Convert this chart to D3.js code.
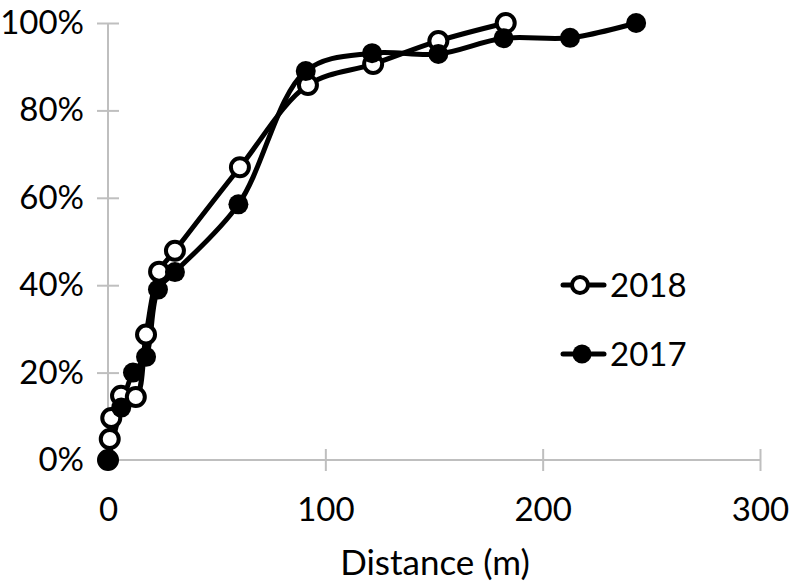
<!DOCTYPE html>
<html><head><meta charset="utf-8">
<script src="https://cdn.jsdelivr.net/npm/d3@7"></script>
<style>body{margin:0;background:#fff}svg{display:block}text{font-family:Lato,"Open Sans",sans-serif;fill:#000}</style>
</head><body>
<svg id="c" width="792" height="585"></svg>
<script>
const xTicks = [0, 100, 200, 300];
const yTicks = [0, 0.2, 0.4, 0.6, 0.8, 1.0];
const series2018X = [0, 0.8, 1.5, 6.0, 12.8, 17.5, 23.5, 30.8, 60.7, 92, 122, 152, 183];
const series2018Y = [0, 0.048, 0.096, 0.147, 0.144, 0.287, 0.431, 0.479, 0.67, 0.858, 0.906, 0.959, 1.0];
const series2017X = [0, 6.1, 11.5, 17.5, 23, 30.8, 60, 91, 121.5, 152, 182, 212.6, 243];
const series2017Y = [0, 0.12, 0.2, 0.236, 0.39, 0.43, 0.585, 0.89, 0.931, 0.929, 0.965, 0.966, 1.0];
const legendLabels = ["2018", "2017"];

const svg = d3.select("#c");
const x = d3.scaleLinear().domain([0, 300]).range([108, 760]);
const y = d3.scaleLinear().domain([0, 1]).range([460, 23]);
const grey = "#bfbfbf";

const xAxis = svg.append("g").attr("transform", `translate(0,${y(0)})`)
  .call(d3.axisBottom(x).tickValues(xTicks).tickSize(11).tickPadding(27).tickFormat(d3.format("d")));
xAxis.selectAll(".tick line").attr("y1", -11);
const yAxis = svg.append("g").attr("transform", `translate(${x(0)},0)`)
  .call(d3.axisLeft(y).tickValues(yTicks).tickSize(11).tickPadding(13).tickFormat(d3.format(".0%")));
yAxis.selectAll(".tick line").attr("x1", 11).attr("x2", -11);
[xAxis, yAxis].forEach(g => {
  g.select(".domain").attr("stroke", grey).attr("stroke-width", 2);
  g.selectAll(".tick line").attr("stroke", grey).attr("stroke-width", 2);
  g.selectAll(".tick text").attr("font-size", 33).attr("font-family", "Lato").attr("fill", "#000");
});
yAxis.select(".domain").attr("d", `M0,${y(1)}V${y(0)}`);
xAxis.select(".domain").attr("d", `M${x(0)},0H${x(300)}`);

svg.append("text").attr("x", 435).attr("y", 575).attr("text-anchor", "middle")
  .attr("font-size", 35).text("Distance (m)");

const line = d3.line().x(d => x(d[0])).y(d => y(d[1])).curve(d3.curveCatmullRom.alpha(0.5));
const d2018 = series2018X.map((v, i) => [v, series2018Y[i]]);
const d2017 = series2017X.map((v, i) => [v, series2017Y[i]]);

svg.append("path").attr("d", line(d2018)).attr("fill", "none").attr("stroke", "#000").attr("stroke-width", 5);
svg.append("path").attr("d", line(d2017)).attr("fill", "none").attr("stroke", "#000").attr("stroke-width", 5);

svg.append("g").selectAll("circle").data(d2018).join("circle")
  .attr("cx", d => x(d[0])).attr("cy", d => y(d[1])).attr("r", 9)
  .attr("fill", "#fff").attr("stroke", "#000").attr("stroke-width", 4);
svg.append("g").selectAll("circle").data(d2017).join("circle")
  .attr("cx", d => x(d[0])).attr("cy", d => y(d[1])).attr("r", 10)
  .attr("fill", "#000");

const leg = svg.append("g");
[[285, true], [354, false]].forEach(([ly, open], i) => {
  leg.append("line").attr("x1", 563).attr("x2", 604).attr("y1", ly).attr("y2", ly)
    .attr("stroke", "#000").attr("stroke-width", 5).attr("stroke-linecap", "round");
  if (open) leg.append("circle").attr("cx", 580).attr("cy", ly).attr("r", 8)
    .attr("fill", "#fff").attr("stroke", "#000").attr("stroke-width", 4);
  else leg.append("circle").attr("cx", 582).attr("cy", ly).attr("r", 9.5).attr("fill", "#000");
  leg.append("text").attr("x", 610).attr("y", ly + 12).attr("font-size", 33).text(legendLabels[i]);
});
</script>
</body></html>
